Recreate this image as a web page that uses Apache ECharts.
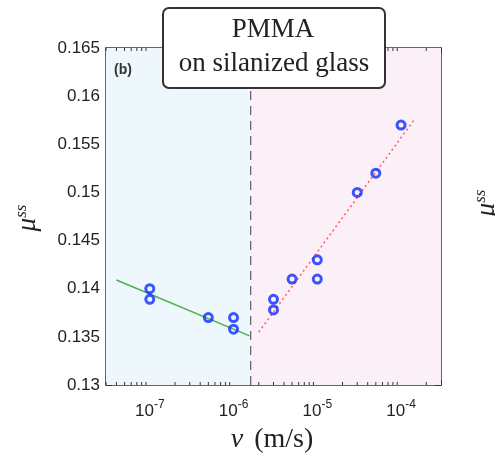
<!DOCTYPE html>
<html lang="en">
<head>
    <meta charset="UTF-8">
    <title>PMMA on silanized glass</title>
    <script src="https://cdn.jsdelivr.net/npm/echarts@6/dist/echarts.min.js"></script>
    <style>
        html, body { margin: 0; padding: 0; background: #fff; }
        #main { width: 495px; height: 460px; }
    </style>
</head>
<body>
<div id="main"></div>
<script>
    // 数据区域
    var speedA = [1e-7, 1e-7, 5e-7, 1e-6, 1e-6];
    var muA = [0.140, 0.1389, 0.137, 0.137, 0.1358];
    var speedB = [3e-6, 3e-6, 5e-6, 1e-5, 1e-5, 3e-5, 5e-5, 1e-4];
    var muB = [0.1389, 0.1378, 0.141, 0.143, 0.141, 0.150, 0.152, 0.157];
    var fitA = [[4e-8, 0.1409], [1.55e-6, 0.1351]];
    var fitB = [[2e-6, 0.1355], [1.45e-4, 0.1576]];
    var splitSpeed = 1.6e-6;
    var xMin = 3e-8, xMax = 3e-4;
    var yMin = 0.13, yMax = 0.165, yStep = 0.005;
    var minorDecades = [-8, -7, -6, -5, -4];

    var minorTicks = [];
    minorDecades.forEach(function (d) {
        for (var k = 2; k <= 9; k++) {
            var v = k * Math.pow(10, d);
            if (v > xMin && v < xMax) minorTicks.push([v]);
        }
    });

    function pairs(xs, ys) {
        return xs.map(function (x, i) { return [x, ys[i]]; });
    }

    var axisColor = '#333';
    var chart = echarts.init(document.getElementById('main'));

    var option = {
        animation: false,
        grid: { left: 106, right: 54, top: 48, bottom: 75 },
        xAxis: [{
            type: 'log',
            logBase: 10,
            min: xMin,
            max: xMax,
            axisLine: { lineStyle: { color: axisColor, width: 1.5 } },
            axisTick: { inside: true, length: 5, lineStyle: { color: axisColor } },
            splitLine: { show: false },
            axisLabel: {
                margin: 14,
                formatter: function (v) {
                    var e = Math.log10(v);
                    if (Math.abs(e - Math.round(e)) > 1e-6) return '';
                    return '{b|10}{s|' + Math.round(e) + '}';
                },
                rich: {
                    b: { fontFamily: 'Liberation Sans', fontSize: 17, color: '#222' },
                    s: { fontFamily: 'Liberation Sans', fontSize: 12, color: '#222', padding: [0, 0, 13, 0] }
                }
            }
        }, {
            type: 'log',
            logBase: 10,
            position: 'top',
            min: xMin,
            max: xMax,
            axisLine: { lineStyle: { color: axisColor, width: 1.5 } },
            axisTick: { inside: true, length: 5, lineStyle: { color: axisColor } },
            axisLabel: { show: false },
            splitLine: { show: false }
        }],
        yAxis: [{
            type: 'value',
            min: yMin,
            max: yMax,
            interval: yStep,
            axisLine: { show: true, lineStyle: { color: axisColor, width: 1.5 } },
            axisTick: { show: true, inside: true, length: 6, lineStyle: { color: axisColor } },
            splitLine: { show: false },
            axisLabel: {
                margin: 6,
                fontFamily: 'Liberation Sans',
                fontSize: 17,
                color: '#222',
                formatter: function (v) { return String(+v.toFixed(3)); }
            }
        }, {
            type: 'value',
            position: 'right',
            min: yMin,
            max: yMax,
            interval: yStep,
            axisLine: { show: true, lineStyle: { color: axisColor, width: 1.5 } },
            axisTick: { show: true, inside: true, length: 6, lineStyle: { color: axisColor } },
            splitLine: { show: false },
            axisLabel: { show: false }
        }],
        series: [
            {
                name: 'regions',
                type: 'line',
                data: [],
                z: 1,
                markArea: {
                    silent: true,
                    data: [
                        [{ xAxis: xMin, itemStyle: { color: '#eef8fc' } }, { xAxis: splitSpeed }],
                        [{ xAxis: splitSpeed, itemStyle: { color: '#fbf0f7' } }, { xAxis: xMax }]
                    ]
                }
            },
            {
                name: 'split',
                type: 'line',
                data: [[splitSpeed, yMin], [splitSpeed, yMax]],
                symbol: 'none',
                z: 2,
                lineStyle: { color: '#666', width: 1.3, type: [9, 6] }
            },
            {
                name: 'fitA',
                type: 'line',
                data: fitA,
                symbol: 'none',
                z: 3,
                lineStyle: { color: '#4db24d', width: 1.5 }
            },
            {
                name: 'fitB',
                type: 'line',
                data: fitB,
                symbol: 'none',
                z: 3,
                lineStyle: { color: '#ff5c5c', width: 1.5, type: [2, 3] }
            },
            {
                name: 'lowSpeed',
                type: 'scatter',
                data: pairs(speedA, muA),
                symbol: 'circle',
                symbolSize: 8,
                z: 4,
                itemStyle: { color: 'rgba(0,0,0,0)', borderColor: '#0a2cff', borderWidth: 3 }
            },
            {
                name: 'highSpeed',
                type: 'scatter',
                data: pairs(speedB, muB),
                symbol: 'circle',
                symbolSize: 8,
                z: 4,
                itemStyle: { color: 'rgba(0,0,0,0)', borderColor: '#0a2cff', borderWidth: 3 }
            },
            {
                name: 'minorTicks',
                type: 'custom',
                data: minorTicks,
                z: 5,
                silent: true,
                renderItem: function (params, api) {
                    var v = api.value(0);
                    var b = api.coord([v, yMin]);
                    var t = api.coord([v, yMax]);
                    var style = { stroke: axisColor, lineWidth: 1 };
                    return {
                        type: 'group',
                        children: [
                            { type: 'line', shape: { x1: b[0], y1: b[1], x2: b[0], y2: b[1] - 3 }, style: style },
                            { type: 'line', shape: { x1: t[0], y1: t[1], x2: t[0], y2: t[1] + 3 }, style: style }
                        ]
                    };
                }
            }
        ],
        graphic: [
            {
                type: 'rect',
                z: 100,
                shape: { x: 163, y: 8, width: 222, height: 80, r: 6 },
                style: { fill: '#fff', stroke: '#333', lineWidth: 2 }
            },
            {
                type: 'text',
                z: 101,
                x: 273, y: 30,
                style: {
                    text: 'PMMA',
                    font: '27px "Liberation Serif"',
                    fill: '#222',
                    align: 'center',
                    verticalAlign: 'middle'
                }
            },
            {
                type: 'text',
                z: 101,
                x: 274, y: 64,
                style: {
                    text: 'on silanized glass',
                    font: '27px "Liberation Serif"',
                    fill: '#222',
                    align: 'center',
                    verticalAlign: 'middle'
                }
            },
            {
                type: 'text',
                z: 101,
                x: 114, y: 70,
                style: {
                    text: '(b)',
                    font: 'bold 14px "Liberation Sans"',
                    fill: '#333',
                    verticalAlign: 'middle'
                }
            },
            {
                type: 'text',
                z: 101,
                x: 28, y: 218,
                rotation: Math.PI / 2,
                style: {
                    text: '{m|μ}{s|ss}',
                    align: 'center',
                    verticalAlign: 'middle',
                    rich: {
                        m: { font: 'italic 27px "Liberation Serif"', fill: '#222' },
                        s: { font: 'italic 17px "Liberation Serif"', fill: '#222', padding: [0, 0, 13, 0] }
                    }
                }
            },
            {
                type: 'text',
                z: 101,
                x: 487, y: 203,
                rotation: Math.PI / 2,
                style: {
                    text: '{m|μ}{s|ss}',
                    align: 'center',
                    verticalAlign: 'middle',
                    rich: {
                        m: { font: 'italic 27px "Liberation Serif"', fill: '#222' },
                        s: { font: 'italic 17px "Liberation Serif"', fill: '#222', padding: [0, 0, 13, 0] }
                    }
                }
            },
            {
                type: 'text',
                z: 101,
                x: 272, y: 440,
                style: {
                    text: '{v|v}{u| (m/s)}',
                    align: 'center',
                    verticalAlign: 'middle',
                    rich: {
                        v: { font: 'italic 28px "Liberation Serif"', fill: '#222' },
                        u: { font: '28px "Liberation Serif"', fill: '#222', padding: [0, 0, 0, 4] }
                    }
                }
            }
        ]
    };

    chart.setOption(option);
</script>
</body>
</html>
